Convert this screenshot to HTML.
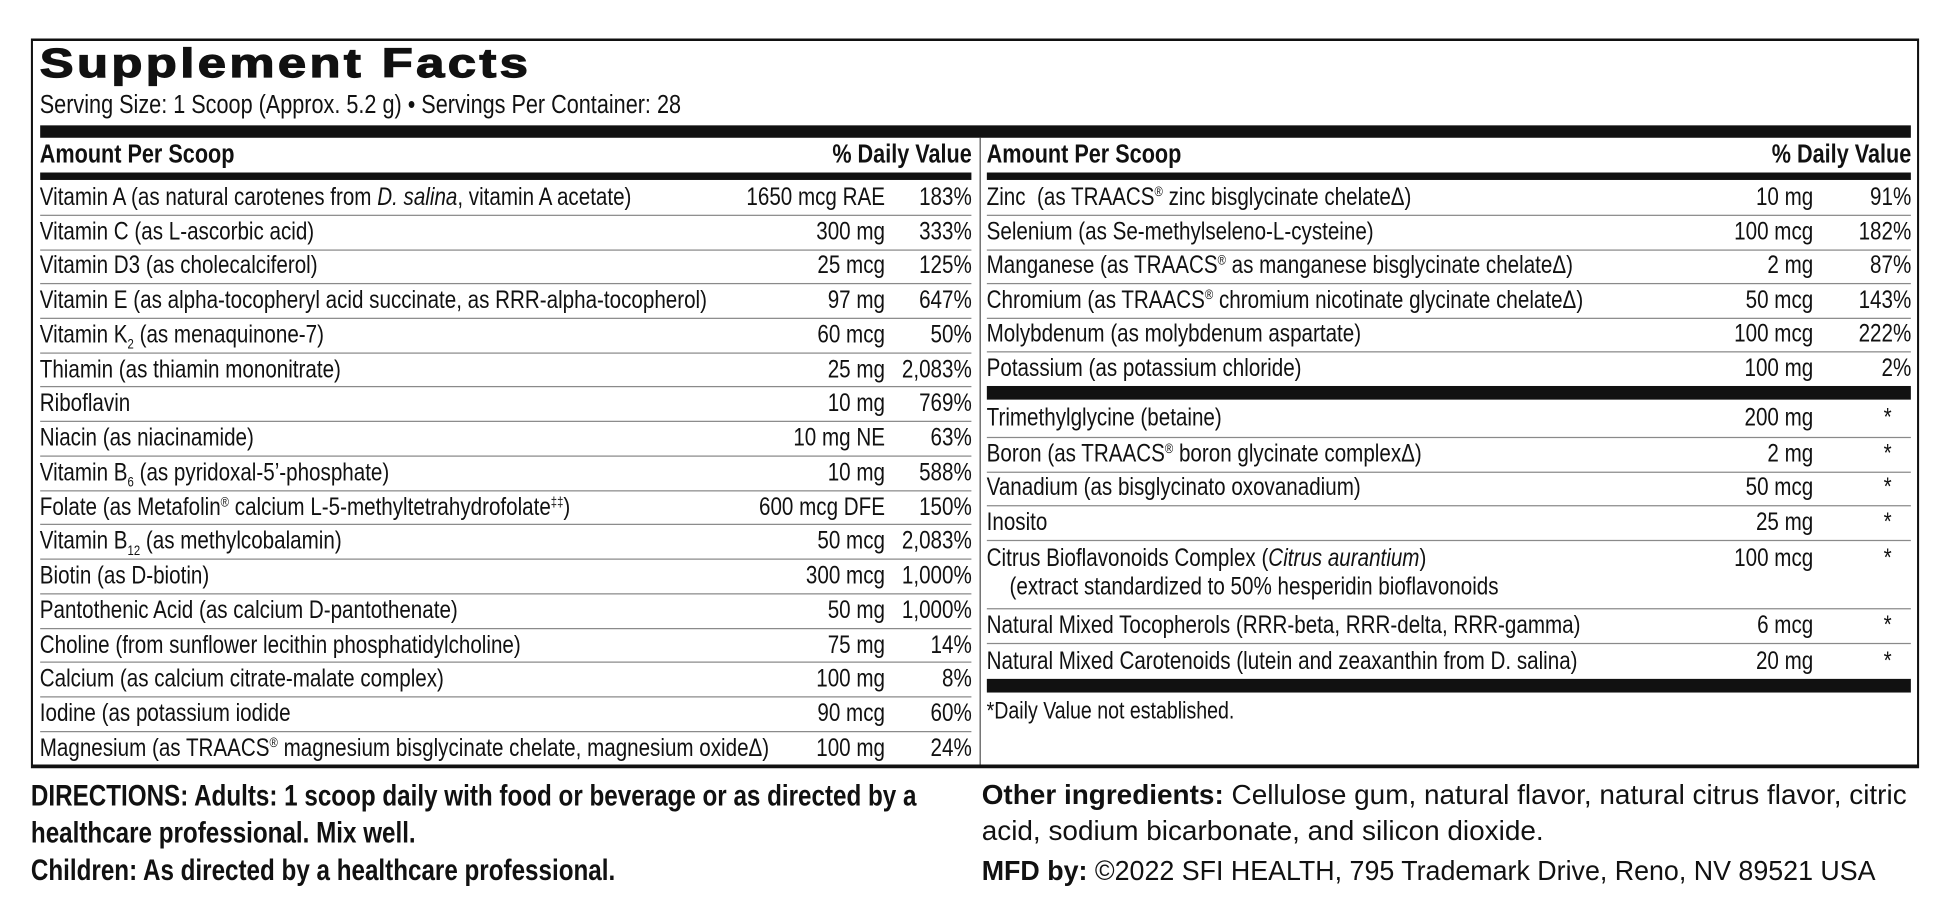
<!DOCTYPE html>
<html><head><meta charset="utf-8"><style>
html,body{margin:0;padding:0;background:#fff;}
body{width:1946px;height:907px;overflow:hidden;position:relative;}
#w{position:absolute;left:0;top:0;width:1568px;height:731px;transform:scale(1.2411);transform-origin:0 0;font-family:"Liberation Sans",sans-serif;color:#111;}
#c{position:absolute;left:0;top:0;width:1889px;height:731px;transform:scaleX(0.83);transform-origin:0 0;}
.a{position:absolute;}
.box{left:30px;top:31px;width:1829px;height:583px;border:2px solid #111;border-left-width:2.4px;border-right-width:2.4px;border-bottom-width:3px;}
.title{left:32px;top:32px;font-weight:900;font-size:33px;letter-spacing:2.2px;transform:scaleX(1.24);transform-origin:0 0;-webkit-text-stroke:1px #111;}
.serv{left:38.6px;top:73px;font-size:21px;}
.bar{background:#111;}
.hdr{font-weight:bold;font-size:21px;}
.row{position:absolute;display:flex;align-items:center;font-size:20px;border-bottom:1.5px solid #8a8a8a;box-sizing:border-box;white-space:nowrap;}
.row .n{flex:1;}
.row .m{text-align:right;}
.row .p{text-align:right;}
.L{left:38.6px;width:904.8px;}
.L .p{width:84.3px;}
.R{left:957.8px;width:897.6px;}
.R .p{width:95.2px;}
.R .s{width:95.2px;text-align:right;padding-right:19px;box-sizing:border-box;}
sup{font-size:11px;line-height:0;vertical-align:7px;}
sub{font-size:11px;line-height:0;}
.bt{font-size:23.5px;line-height:30px;}
b{font-weight:bold;}
</style></head><body><div id="w">
<div class="a title">Supplement Facts</div>
<div id="c">
<div class="a box"></div>
<div class="a serv">Serving Size: 1 Scoop (Approx. 5.2 g) • Servings Per Container: 28</div>
<div class="a bar" style="left:38.6px;top:101px;width:1816.9px;height:10px"></div>
<div class="a" style="left:950.6px;top:111px;width:1.8px;height:505px;background:#333"></div>
<div class="a hdr" style="left:38.6px;top:113px">Amount Per Scoop</div>
<div class="a hdr" style="left:38.6px;top:113px;width:904.8px;text-align:right">% Daily Value</div>
<div class="a hdr" style="left:957.8px;top:113px">Amount Per Scoop</div>
<div class="a hdr" style="left:957.8px;top:113px;width:897.6px;text-align:right">% Daily Value</div>
<div class="a bar" style="left:38.6px;top:139px;width:904.8px;height:6px"></div>
<div class="a bar" style="left:957.8px;top:139px;width:897.6px;height:6px"></div>

<div class="row L" style="top:146px;height:28px"><span class="n">Vitamin A (as natural carotenes from <i>D. salina</i>, vitamin A acetate)</span><span class="m">1650 mcg RAE</span><span class="p">183%</span></div>
<div class="row L" style="top:174px;height:27.7px"><span class="n">Vitamin C (as L-ascorbic acid)</span><span class="m">300 mg</span><span class="p">333%</span></div>
<div class="row L" style="top:201.5px;height:27.7px"><span class="n">Vitamin D3 (as cholecalciferol)</span><span class="m">25 mcg</span><span class="p">125%</span></div>
<div class="row L" style="top:229.3px;height:27.7px"><span class="n">Vitamin E (as alpha-tocopheryl acid succinate, as RRR-alpha-tocopherol)</span><span class="m">97 mg</span><span class="p">647%</span></div>
<div class="row L" style="top:257px;height:27.7px"><span class="n">Vitamin K<sub>2</sub> (as menaquinone-7)</span><span class="m">60 mcg</span><span class="p">50%</span></div>
<div class="row L" style="top:284.8px;height:27.7px"><span class="n">Thiamin (as thiamin mononitrate)</span><span class="m">25 mg</span><span class="p">2,083%</span></div>
<div class="row L" style="top:312.5px;height:27.7px"><span class="n">Riboflavin</span><span class="m">10 mg</span><span class="p">769%</span></div>
<div class="row L" style="top:340.3px;height:27.7px"><span class="n">Niacin (as niacinamide)</span><span class="m">10 mg NE</span><span class="p">63%</span></div>
<div class="row L" style="top:368px;height:27.7px"><span class="n">Vitamin B<sub>6</sub> (as pyridoxal-5’-phosphate)</span><span class="m">10 mg</span><span class="p">588%</span></div>
<div class="row L" style="top:395.8px;height:27.7px"><span class="n">Folate (as Metafolin<sup>®</sup> calcium L-5-methyltetrahydrofolate<sup>‡‡</sup>)</span><span class="m">600 mcg DFE</span><span class="p">150%</span></div>
<div class="row L" style="top:423.5px;height:27.7px"><span class="n">Vitamin B<sub>12</sub> (as methylcobalamin)</span><span class="m">50 mcg</span><span class="p">2,083%</span></div>
<div class="row L" style="top:451.3px;height:27.7px"><span class="n">Biotin (as D-biotin)</span><span class="m">300 mcg</span><span class="p">1,000%</span></div>
<div class="row L" style="top:479px;height:27.7px"><span class="n">Pantothenic Acid (as calcium D-pantothenate)</span><span class="m">50 mg</span><span class="p">1,000%</span></div>
<div class="row L" style="top:506.8px;height:27.7px"><span class="n">Choline (from sunflower lecithin phosphatidylcholine)</span><span class="m">75 mg</span><span class="p">14%</span></div>
<div class="row L" style="top:534.5px;height:27.7px"><span class="n">Calcium (as calcium citrate-malate complex)</span><span class="m">100 mg</span><span class="p">8%</span></div>
<div class="row L" style="top:562.3px;height:27.7px"><span class="n">Iodine (as potassium iodide</span><span class="m">90 mcg</span><span class="p">60%</span></div>
<div class="row L" style="top:590px;height:26px;border-bottom:none"><span class="n">Magnesium (as TRAACS<sup>®</sup> magnesium bisglycinate chelate, magnesium oxideΔ)</span><span class="m">100 mg</span><span class="p">24%</span></div>

<div class="row R" style="top:146px;height:28px"><span class="n">Zinc&nbsp; (as TRAACS<sup>®</sup> zinc bisglycinate chelateΔ)</span><span class="m">10 mg</span><span class="p">91%</span></div>
<div class="row R" style="top:174px;height:27.5px"><span class="n">Selenium (as Se-methylseleno-L-cysteine)</span><span class="m">100 mcg</span><span class="p">182%</span></div>
<div class="row R" style="top:201.5px;height:27.5px"><span class="n">Manganese (as TRAACS<sup>®</sup> as manganese bisglycinate chelateΔ)</span><span class="m">2 mg</span><span class="p">87%</span></div>
<div class="row R" style="top:229px;height:27.5px"><span class="n">Chromium (as TRAACS<sup>®</sup> chromium nicotinate glycinate chelateΔ)</span><span class="m">50 mcg</span><span class="p">143%</span></div>
<div class="row R" style="top:256.5px;height:27.5px"><span class="n">Molybdenum (as molybdenum aspartate)</span><span class="m">100 mcg</span><span class="p">222%</span></div>
<div class="row R" style="top:284px;height:27px;border-bottom:none"><span class="n">Potassium (as potassium chloride)</span><span class="m">100 mg</span><span class="p">2%</span></div>
<div class="a bar" style="left:957.8px;top:311px;width:897.6px;height:11px"></div>
<div class="row R" style="top:323px;height:30px"><span class="n">Trimethylglycine (betaine)</span><span class="m">200 mg</span><span class="s">*</span></div>
<div class="row R" style="top:353px;height:27.5px"><span class="n">Boron (as TRAACS<sup>®</sup> boron glycinate complexΔ)</span><span class="m">2 mg</span><span class="s">*</span></div>
<div class="row R" style="top:380.5px;height:27.5px"><span class="n">Vanadium (as bisglycinato oxovanadium)</span><span class="m">50 mcg</span><span class="s">*</span></div>
<div class="row R" style="top:408px;height:27.5px"><span class="n">Inosito</span><span class="m">25 mg</span><span class="s">*</span></div>
<div class="row R" style="top:435.5px;height:55.5px;align-items:flex-start;padding-top:3px"><span class="n">Citrus Bioflavonoids Complex (<i>Citrus aurantium</i>)<br>&nbsp;&nbsp;&nbsp;&nbsp;(extract standardized to 50% hesperidin bioflavonoids</span><span class="m">100 mcg</span><span class="s">*</span></div>
<div class="row R" style="top:491px;height:28px"><span class="n">Natural Mixed Tocopherols (RRR-beta, RRR-delta, RRR-gamma)</span><span class="m">6 mcg</span><span class="s">*</span></div>
<div class="row R" style="top:519px;height:28px;border-bottom:none"><span class="n">Natural Mixed Carotenoids (lutein and zeaxanthin from D. salina)</span><span class="m">20 mg</span><span class="s">*</span></div>
<div class="a bar" style="left:957.8px;top:547px;width:897.6px;height:11px"></div>
<div class="a" style="left:957.8px;top:563px;font-size:19px">*Daily Value not established.</div>

<div class="a bt" style="left:30px;top:626px;width:905px"><b>DIRECTIONS: Adults: 1 scoop daily with food or beverage or as directed by a healthcare professional. Mix well.<br>Children: As directed by a healthcare professional.</b></div>
</div>
<div class="a" style="left:791px;top:626px;font-size:22.5px;line-height:29px;white-space:nowrap"><b>Other ingredients:</b> Cellulose gum, natural flavor, natural citrus flavor, citric<br>acid, sodium bicarbonate, and silicon dioxide.</div>
<div class="a" style="left:791px;top:687px;font-size:22.5px;line-height:29px;white-space:nowrap;transform:scaleX(0.96);transform-origin:0 0"><b>MFD by:</b> ©2022 SFI HEALTH, 795 Trademark Drive, Reno, NV 89521 USA</div>
</div></body></html>
